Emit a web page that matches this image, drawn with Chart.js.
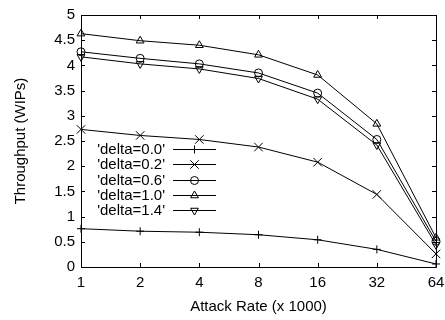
<!DOCTYPE html>
<html>
<head>
<meta charset="utf-8">
<script src="https://cdn.jsdelivr.net/npm/chart.js@4"></script>
<style>
  html, body { margin: 0; padding: 0; background: #fff; }
  #wrap { width: 445px; height: 320px; }
</style>
</head>
<body>
<div id="wrap"><canvas id="chart"></canvas></div>
<script>
// data
const attackRates = ['1', '2', '4', '8', '16', '32', '64'];
const delta00 = [0.76, 0.71, 0.69, 0.64, 0.54, 0.35, 0.06];
const delta02 = [2.73, 2.61, 2.53, 2.38, 2.08, 1.44, 0.26];
const delta06 = [4.27, 4.14, 4.03, 3.85, 3.45, 2.53, 0.51];
const delta10 = [4.63, 4.49, 4.40, 4.21, 3.81, 2.84, 0.58];
const delta14 = [4.17, 4.03, 3.93, 3.74, 3.33, 2.42, 0.44];
const seriesNames = ["'delta=0.0'", "'delta=0.2'", "'delta=0.6'", "'delta=1.0'", "'delta=1.4'"];

const FONT = '"Liberation Sans", Arial, sans-serif';

function makeSet(label, data, style, rot, radius) {
    return {
        label: label,
        data: data,
        borderColor: '#000',
        borderWidth: 1,
        pointStyle: style,
        pointRotation: rot,
        pointRadius: radius,
        pointHoverRadius: radius,
        pointBorderColor: '#000',
        pointBorderWidth: 1,
        pointBackgroundColor: 'rgba(0,0,0,0)',
        fill: false,
        tension: 0
    };
}

// gnuplot style frame: box + inward ticks on all four sides
const framePlugin = {
    id: 'frame',
    afterDatasetsDraw(chart) {
        const ctx = chart.ctx;
        const a = chart.chartArea;
        const xs = chart.scales.x;
        const ys = chart.scales.y;
        const len = 4;
        ctx.save();
        ctx.strokeStyle = '#000';
        ctx.lineWidth = 1;
        ctx.beginPath();
        ctx.rect(Math.round(a.left) + 0.5, Math.round(a.top) + 0.5,
                 Math.round(a.right - a.left), Math.round(a.bottom - a.top));
        ctx.stroke();
        ctx.beginPath();
        xs.ticks.forEach((t, i) => {
            const px = Math.round(xs.getPixelForTick(i)) + 0.5;
            ctx.moveTo(px, a.bottom); ctx.lineTo(px, a.bottom - len);
            ctx.moveTo(px, a.top); ctx.lineTo(px, a.top + len);
        });
        ys.ticks.forEach((t, i) => {
            const py = Math.round(ys.getPixelForTick(i)) + 0.5;
            ctx.moveTo(a.left, py); ctx.lineTo(a.left + len, py);
            ctx.moveTo(a.right, py); ctx.lineTo(a.right - len, py);
        });
        ctx.stroke();
        ctx.restore();
    }
};

// legend the way gnuplot draws it: right aligned key, line sample, marker
const keyPlugin = {
    id: 'key',
    afterDatasetsDraw(chart) {
        const ctx = chart.ctx;
        const a = chart.chartArea;
        const textRight = a.left + 84;
        const lineL = a.left + 92;
        const lineR = a.left + 135;
        const top = 149;
        const step = 15.3;
        ctx.save();
        ctx.font = '15px ' + FONT;
        ctx.textAlign = 'right';
        ctx.textBaseline = 'middle';
        chart.data.datasets.forEach((ds, i) => {
            const y = Math.round(top + i * step);
            ctx.fillStyle = '#000';
            ctx.fillText(ds.label, textRight, y + 1);
            ctx.strokeStyle = '#000';
            ctx.lineWidth = 1;
            ctx.beginPath();
            ctx.moveTo(lineL, y + 0.5);
            ctx.lineTo(lineR, y + 0.5);
            ctx.stroke();
            ctx.fillStyle = 'rgba(0,0,0,0)';
            Chart.helpers.drawPoint(ctx, {
                pointStyle: ds.pointStyle,
                rotation: ds.pointRotation,
                radius: ds.pointRadius,
                borderWidth: 1
            }, (lineL + lineR) / 2, y + 0.5);
        });
        ctx.restore();
    }
};

new Chart(document.getElementById('chart'), {
    type: 'line',
    data: {
        labels: attackRates,
        datasets: [
            makeSet(seriesNames[0], delta00, 'cross', 0, 4),
            makeSet(seriesNames[1], delta02, 'crossRot', 0, 6),
            makeSet(seriesNames[2], delta06, 'circle', 0, 4),
            makeSet(seriesNames[3], delta10, 'triangle', 0, 4.5),
            makeSet(seriesNames[4], delta14, 'triangle', 180, 4.5)
        ]
    },
    options: {
        responsive: true,
        maintainAspectRatio: false,
        animation: false,
        events: [],
        layout: { padding: { top: 11, right: 9, left: 0, bottom: 0 } },
        plugins: {
            legend: { display: false },
            tooltip: { enabled: false }
        },
        scales: {
            x: {
                offset: false,
                grid: { display: false, drawTicks: false },
                border: { display: false },
                ticks: {
                    color: '#000',
                    font: { family: FONT, size: 15 },
                    padding: 7,
                    maxRotation: 0,
                    autoSkip: false
                },
                title: {
                    display: true,
                    text: 'Attack Rate (x 1000)',
                    color: '#000',
                    font: { family: FONT, size: 15 },
                    padding: { top: 0, bottom: 4 }
                },
                afterFit(scale) { scale.height = 53; scale.paddingRight = 0; }
            },
            y: {
                min: 0,
                max: 5,
                grid: { display: false, drawTicks: false },
                border: { display: false },
                ticks: {
                    stepSize: 0.5,
                    color: '#000',
                    font: { family: FONT, size: 15 },
                    padding: 6,
                    callback: v => String(v)
                },
                title: {
                    display: true,
                    text: 'Throughput (WIPs)',
                    color: '#000',
                    font: { family: FONT, size: 15 },
                    padding: { top: 12, bottom: 0 }
                },
                afterFit(scale) { scale.width = 81; }
            }
        }
    },
    plugins: [framePlugin, keyPlugin]
});
</script>
</body>
</html>
